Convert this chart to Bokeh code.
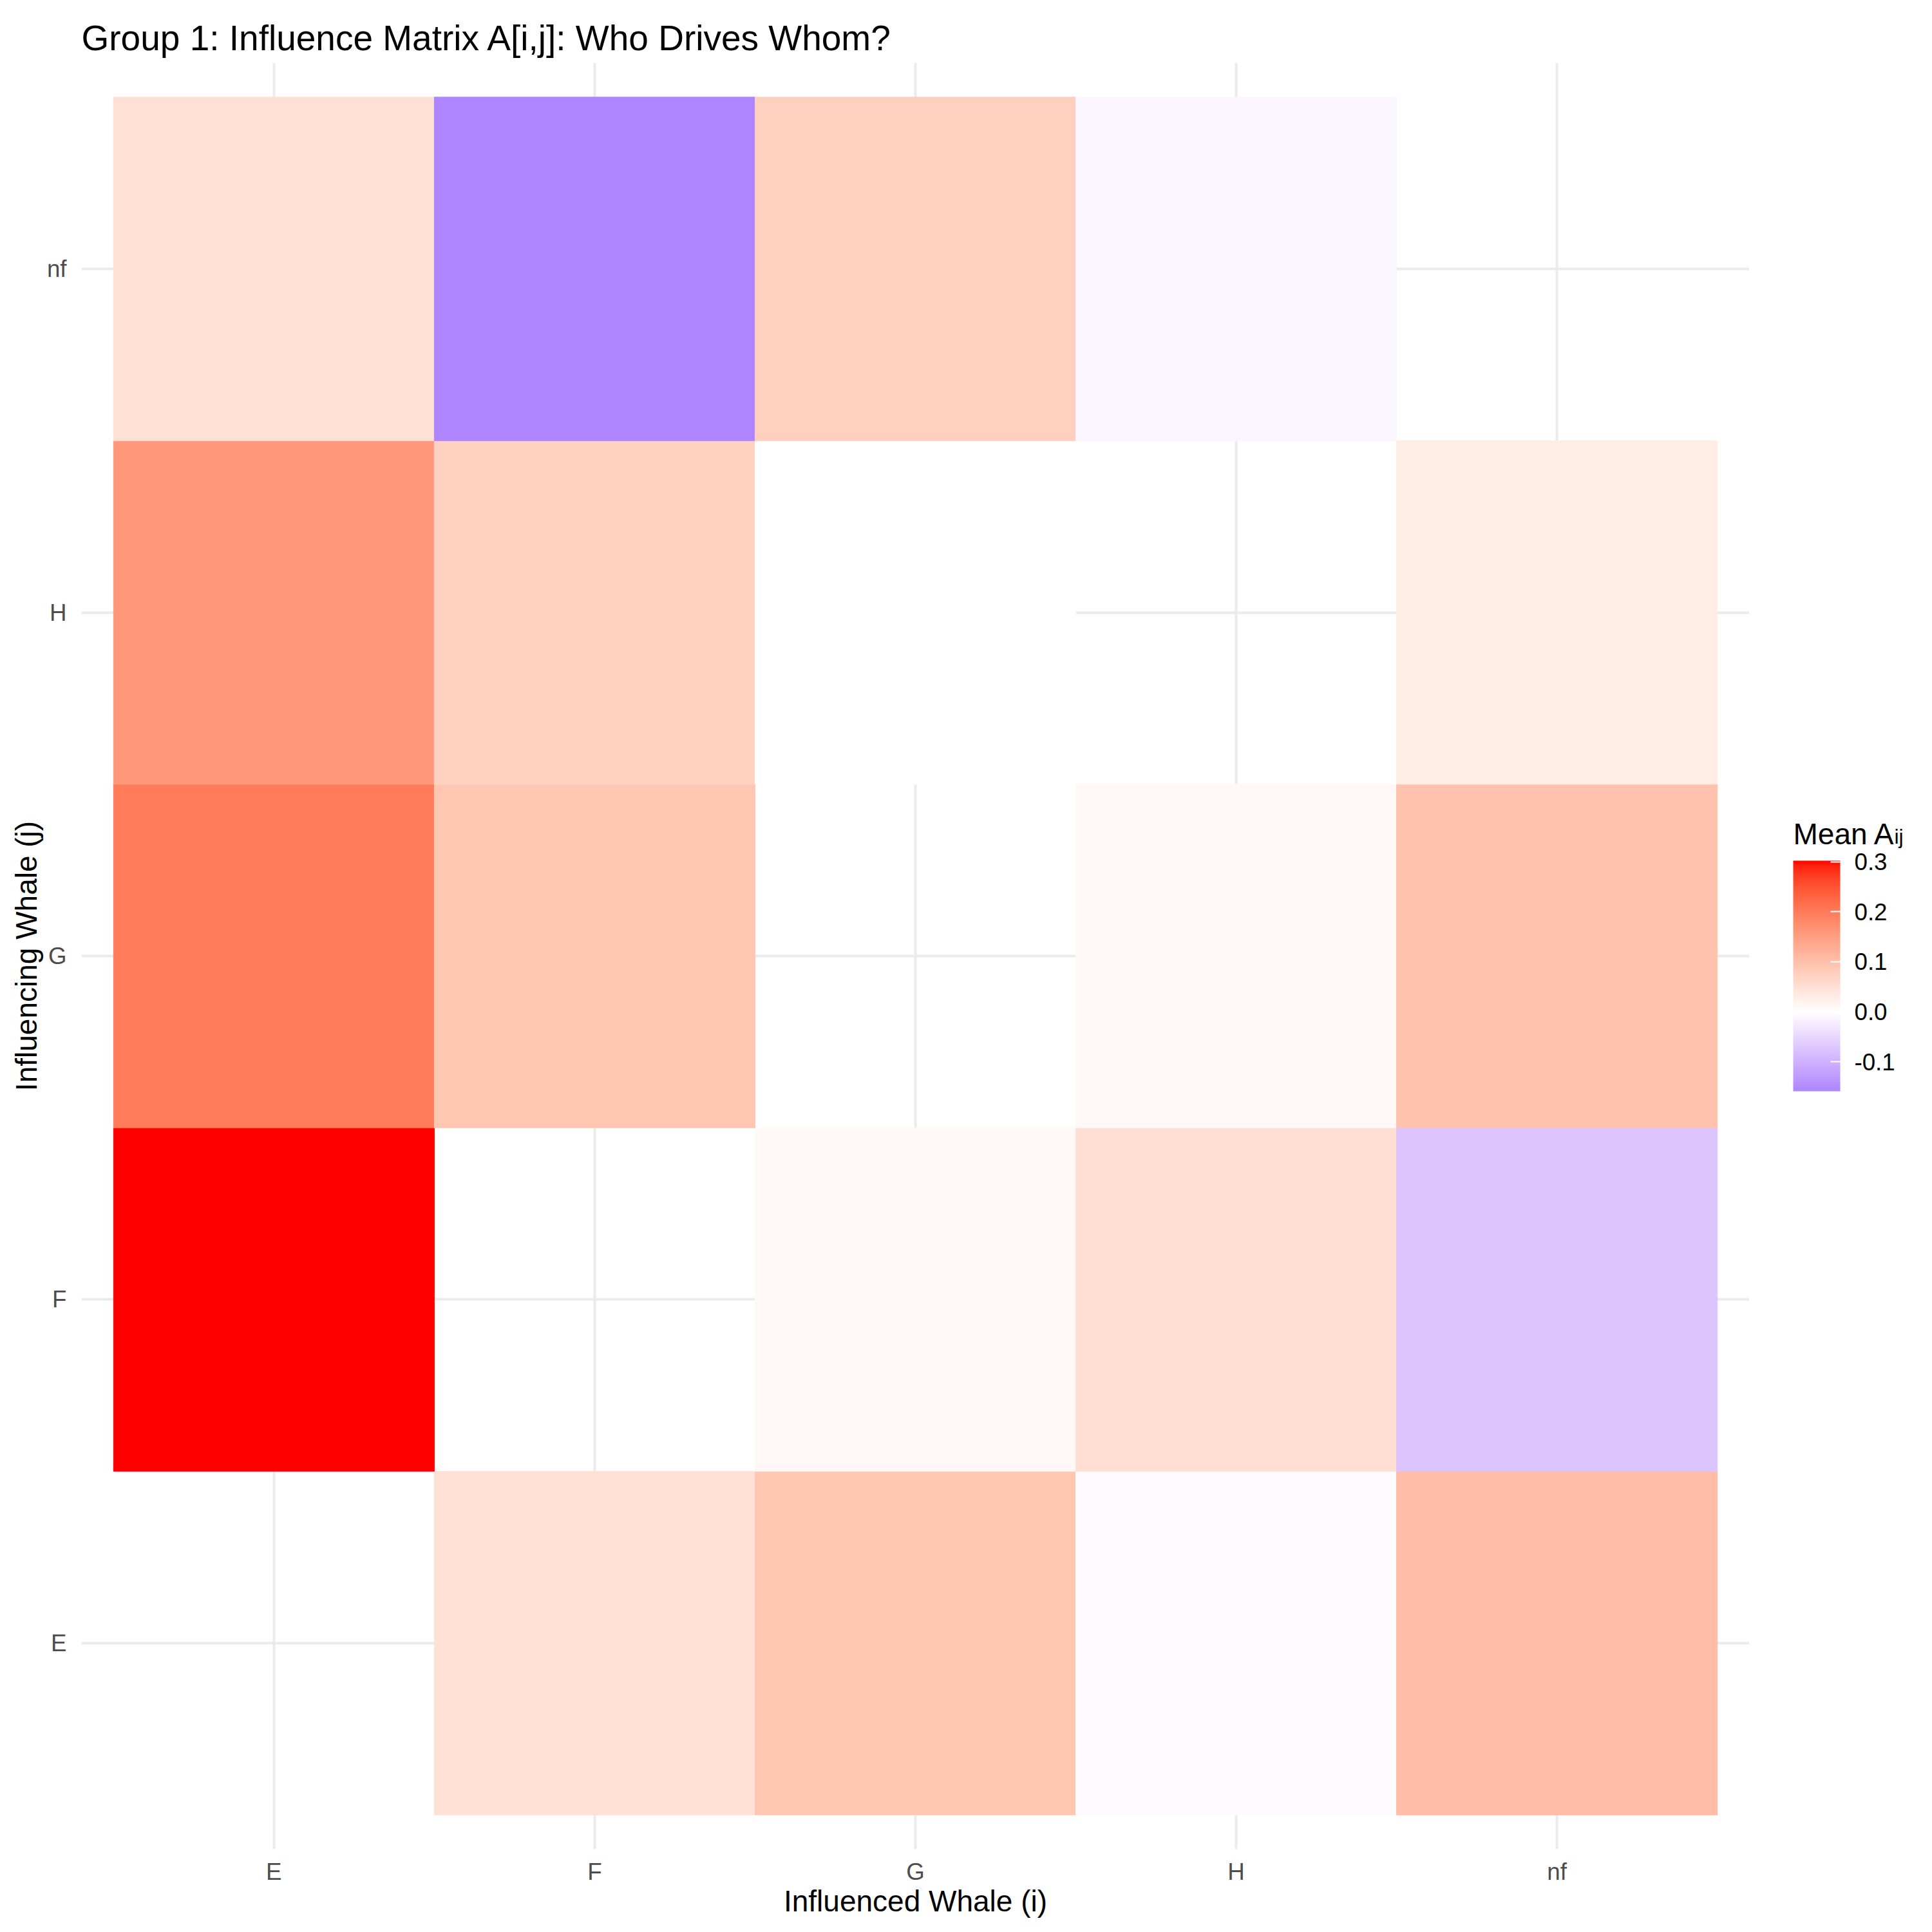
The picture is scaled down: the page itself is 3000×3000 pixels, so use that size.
import numpy as np
from bokeh.plotting import figure
from bokeh.layouts import row
from bokeh.models import (ColumnDataSource, LinearColorMapper, ColorBar, FixedTicker,
                          PrintfTickFormatter, FactorRange, Label, Range1d)
from bokeh.transform import transform
from bokeh.embed import file_html
from bokeh.resources import INLINE

# ---- data -------------------------------------------------------------
influenced = ["E", "F", "G", "H", "nf"]      # x axis (i)
influencing = ["E", "F", "G", "H", "nf"]     # y axis (j)

# mean A[i,j]; one list per influencing whale (row),
# ordered by influenced whale E, F, G, H, nf; None = no tile
from_E = [None, 0.049, 0.090, -0.005, 0.105]
from_F = [0.302, None, 0.012, 0.050, -0.076]
from_G = [0.200, 0.090, None, 0.011, 0.095]
from_H = [0.158, 0.072, 0.001, None, 0.031]
from_nf = [0.049, -0.159, 0.075, -0.012, None]

legend_ticks = [-0.1, 0.0, 0.1, 0.2, 0.3]

rows = {"E": from_E, "F": from_F, "G": from_G, "H": from_H, "nf": from_nf}

xs, ys, vals = [], [], []
for j in influencing:
    for i, v in zip(influenced, rows[j]):
        if v is not None:
            xs.append(i)
            ys.append(j)
            vals.append(v)
source = ColumnDataSource(dict(x=xs, y=ys, v=vals))

# ---- diverging palette (blue - white - red, Lab interpolation) --------
M = np.array([[0.4124564, 0.3575761, 0.1804375],
              [0.2126729, 0.7151522, 0.0721750],
              [0.0193339, 0.1191920, 0.9503041]])
Minv = np.linalg.inv(M)
WP = np.array([0.95047, 1.0, 1.08883])


def to_lab(hexc):
    c = np.array([int(hexc[k:k + 2], 16) for k in (1, 3, 5)]) / 255.0
    lin = np.where(c <= 0.04045, c / 12.92, ((c + 0.055) / 1.055) ** 2.4)
    xyz = M @ lin / WP
    f = np.where(xyz > 0.008856, np.cbrt(xyz), 7.787 * xyz + 16 / 116)
    return np.array([116 * f[1] - 16, 500 * (f[0] - f[1]), 200 * (f[1] - f[2])])


def from_lab(lab):
    fy = (lab[0] + 16) / 116
    f = np.array([fy + lab[1] / 500, fy, fy - lab[2] / 200])
    xyz = np.where(f ** 3 > 0.008856, f ** 3, (f - 16 / 116) / 7.787) * WP
    lin = Minv @ xyz
    lin = np.clip(lin, 0, 1)
    c = np.where(lin <= 0.0031308, 12.92 * lin, 1.055 * lin ** (1 / 2.4) - 0.055)
    c = np.clip(np.round(c * 255), 0, 255).astype(int)
    return "#%02x%02x%02x" % tuple(c)


lab_low, lab_mid, lab_high = to_lab("#0000ff"), to_lab("#ffffff"), to_lab("#ff0000")
vmin, vmax = min(vals), max(vals)
extent = max(abs(vmin), abs(vmax))
palette = []
for v in np.linspace(vmin, vmax, 256):
    t = v / extent * 0.5 + 0.5
    if t < 0.5:
        s = t / 0.5
        lab = lab_low + (lab_mid - lab_low) * s
    else:
        s = (t - 0.5) / 0.5
        lab = lab_mid + (lab_high - lab_mid) * s
    palette.append(from_lab(lab))

mapper = LinearColorMapper(palette=palette, low=vmin, high=vmax)

# ---- main figure ------------------------------------------------------
FONT = "Liberation Sans"
p = figure(width=2716, height=3000, output_backend="svg", toolbar_location=None,
           x_range=FactorRange(factors=influenced, range_padding=0.1, range_padding_units="absolute"),
           y_range=FactorRange(factors=influencing, range_padding=0.1, range_padding_units="absolute"),
           min_border_left=126, min_border_right=0, min_border_top=97, min_border_bottom=129,
           title="Group 1: Influence Matrix A[i,j]: Who Drives Whom?")

p.rect(x="x", y="y", width=1, height=1, source=source,
       fill_color=transform("v", mapper), line_color=transform("v", mapper), line_width=1)

p.outline_line_color = None
p.background_fill_color = "white"
p.border_fill_color = "white"

p.title.text_font = FONT
p.title.text_font_size = "55px"
p.title.text_font_style = "normal"
p.title.text_color = "black"
p.title.align = "left"
p.title.standoff = 15

for ax in (p.xaxis[0], p.yaxis[0]):
    ax.axis_line_color = None
    ax.major_tick_line_color = None
    ax.minor_tick_line_color = None
    ax.major_tick_in = 0
    ax.major_tick_out = 0
    ax.major_label_text_font = FONT
    ax.major_label_text_font_size = "36.7px"
    ax.major_label_text_color = "#4d4d4d"
    ax.axis_label_text_font = FONT
    ax.axis_label_text_font_size = "46px"
    ax.axis_label_text_font_style = "normal"
    ax.axis_label_text_color = "black"

p.xaxis.axis_label = "Influenced Whale (i)"
p.yaxis.axis_label = "Influencing Whale (j)"
p.xaxis.major_label_standoff = 14
p.yaxis.major_label_standoff = 23
p.xaxis.axis_label_standoff = -4
p.yaxis.axis_label_standoff = 3

p.xgrid.grid_line_color = "#ebebeb"
p.ygrid.grid_line_color = "#ebebeb"
p.xgrid.grid_line_width = 4
p.ygrid.grid_line_width = 4

# ---- legend figure (colour bar + title) -------------------------------
leg = figure(width=284, height=3000, output_backend="svg", toolbar_location=None,
             x_axis_type=None, y_axis_type=None,
             x_range=Range1d(0, 284), y_range=Range1d(0, 3000),
             min_border_left=0, min_border_right=0, min_border_top=0, min_border_bottom=0)
leg.outline_line_color = None
leg.grid.visible = False
leg.background_fill_color = "white"
leg.border_fill_color = "white"

cb = ColorBar(color_mapper=mapper,
              ticker=FixedTicker(ticks=legend_ticks),
              formatter=PrintfTickFormatter(format="%.1f"),
              width=73, height=358, location=(68, 1177),
              margin=0, padding=0, title=None,
              major_label_text_font=FONT, major_label_text_font_size="36.7px",
              major_label_text_color="black", label_standoff=22,
              major_tick_line_color="white", major_tick_line_width=2,
              major_tick_in=15, major_tick_out=0,
              minor_tick_line_color=None, bar_line_color=None,
              border_line_color=None, background_fill_color=None)
leg.add_layout(cb, "center")

leg.add_layout(Label(x=68, y=1705, text="Mean A", text_font=FONT, text_font_size="46px",
                     text_color="black", text_baseline="alphabetic"))
leg.add_layout(Label(x=225, y=1701, text="ij", text_font=FONT, text_font_size="32px",
                     text_color="black", text_baseline="alphabetic"))

layout = row(p, leg, spacing=0)
open("out.html", "w").write(file_html(layout, INLINE))
